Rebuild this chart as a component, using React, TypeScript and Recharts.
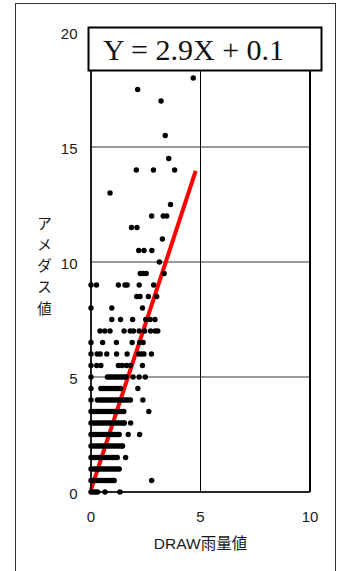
import React from 'react';
import { ScatterChart, Scatter, XAxis, YAxis, CartesianGrid, ReferenceLine } from 'recharts';

// ---- axis / text data ----
const xTicks = [0, 5, 10];
const yTicks = [0, 5, 10, 15, 20];
const xAxisTitle = 'DRAW雨量値';
const yAxisTitleChars = ['ア', 'メ', 'ダ', 'ス', '値'];
const equationText = 'Y = 2.9X + 0.1';

// ---- plot frame: right edge of the plot (x = 10, y from 0 to 20) ----
const rightEdge = [
  { x: 10, y: 0 },
  { x: 10, y: 20 },
];

// ---- regression line end points (Y = 2.9X + 0.1) ----
const fitLine = [
  { x: 0, y: 0.1 },
  { x: 4.78, y: 13.96 },
];

// ---- scatter data: AMeDAS value levels and the DRAW values seen at each level ----
const amedasLevels = [
  0, 0.5, 1, 1.5, 2, 2.5, 3, 3.5, 4, 4.5, 5, 5.5, 6, 6.5, 7, 7.5, 8, 8.5, 9, 9.5,
  10, 10.5, 11, 11.5, 12, 12.5, 13, 14, 14.5, 15.5, 17, 17.5, 18,
];
const draw00 = [0, 0.1, 0.2, 0.3, 0.64, 1.32];
const draw05 = [0, 0.1, 0.2, 0.3, 0.4, 0.5, 0.6, 0.7, 0.8, 0.9, 1.0, 1.06, 2.77];
const draw10 = [0, 0.1, 0.2, 0.3, 0.4, 0.5, 0.6, 0.7, 0.8, 0.9, 1.0, 1.1, 1.2, 1.29];
const draw15 = [0, 0.1, 0.2, 0.3, 0.4, 0.5, 0.6, 0.7, 0.8, 0.9, 1.0, 1.1, 1.2, 1.58];
const draw20 = [0, 0.1, 0.2, 0.3, 0.4, 0.5, 0.6, 0.7, 0.8, 0.9, 1.0, 1.1, 1.2, 1.3, 1.4, 1.44];
const draw25 = [0, 0.1, 0.2, 0.3, 0.4, 0.5, 0.6, 0.7, 0.8, 0.9, 1.0, 1.1, 1.2, 1.29, 1.7, 2.22];
const draw30 = [0, 0.1, 0.2, 0.3, 0.4, 0.5, 0.6, 0.7, 0.8, 0.9, 1.0, 1.1, 1.2, 1.3, 1.4, 1.5, 1.52, 1.81];
const draw35 = [0, 0.1, 0.2, 0.3, 0.4, 0.5, 0.6, 0.7, 0.8, 0.9, 1.0, 1.1, 1.2, 1.3, 1.4, 1.5, 2.64];
const draw40 = [0, 0.29, 0.4, 0.5, 0.6, 0.7, 0.8, 0.9, 1.0, 1.1, 1.2, 1.3, 1.4, 1.5, 1.6, 1.7, 1.8, 2.37];
const draw45 = [0, 0.45, 0.55, 0.65, 0.75, 0.85, 0.95, 1.05, 1.15, 1.25, 1.35, 2.14];
const draw50 = [0, 0.75, 0.85, 0.95, 1.05, 1.15, 1.25, 1.35, 1.45, 1.55, 1.6, 1.92, 2.2, 2.48];
const draw55 = [0, 0.26, 0.45, 1.25, 1.42, 1.62, 1.8, 2.35];
const draw60 = [0, 0.28, 0.42, 0.72, 1.17, 1.65, 2.18, 2.3, 2.42, 2.76];
const draw65 = [0, 0.53, 1.16, 1.88, 2.22, 2.38];
const draw70 = [0.41, 0.63, 0.87, 1.51, 1.79, 1.94, 2.2, 2.45, 2.72, 2.93, 3.05];
const draw75 = [0.95, 1.35, 1.9, 2.5, 2.7, 2.92];
const draw80 = [0, 0.95, 2.35];
const draw85 = [2.09, 2.24, 2.62, 3.0];
const draw90 = [0, 0.25, 1.25, 1.55, 1.65, 2.2, 2.86];
const draw95 = [2.25, 2.38, 2.52, 3.34];
const draw100 = [3.12];
const draw105 = [2.18, 2.42, 2.78];
const draw110 = [3.26];
const draw115 = [1.85, 2.1];
const draw120 = [2.77, 3.3, 3.46];
const draw125 = [3.63];
const draw130 = [0.87];
const draw140 = [2.07, 2.85, 3.82];
const draw145 = [3.55];
const draw155 = [3.39];
const draw170 = [3.2];
const draw175 = [2.13];
const draw180 = [4.67];

const drawRows: number[][] = [
  draw00, draw05, draw10, draw15, draw20, draw25, draw30, draw35, draw40, draw45,
  draw50, draw55, draw60, draw65, draw70, draw75, draw80, draw85, draw90, draw95,
  draw100, draw105, draw110, draw115, draw120, draw125, draw130, draw140, draw145,
  draw155, draw170, draw175, draw180,
];

const points = amedasLevels.flatMap((level, i) =>
  drawRows[i].map((x) => ({ x, y: level }))
);

// ---- layout ----
const W = 337;
const H = 571;
const MARGIN = { top: 32, right: 27, bottom: 40, left: 0 };
const X_AXIS_H = 39;

const TICK_FONT = '"Liberation Sans", Arial, "Noto Sans CJK JP", sans-serif';

const XTick = (props: any) => {
  const { x, y, payload } = props;
  return (
    <text x={x} y={y + 29.5} textAnchor="middle" fontSize={15} fontFamily={TICK_FONT} fill="#1a1a1a">
      {payload.value}
    </text>
  );
};

const YTick = (props: any) => {
  const { x, y, payload } = props;
  return (
    <text x={x - 13.5} y={y + 7.3} textAnchor="end" fontSize={15} fontFamily={TICK_FONT} fill="#1a1a1a">
      {payload.value}
    </text>
  );
};

const Dot = (props: any) => <circle cx={props.cx} cy={props.cy} r={2.7} fill="#000" />;

const XTitle = (props: any) => {
  const vb = props.viewBox || { x: 91, y: 492, width: 219, height: 39 };
  return (
    <text
      x={vb.x + vb.width / 2}
      y={vb.y + 57.3}
      textAnchor="middle"
      fontSize={15.5}
      fontFamily={TICK_FONT}
      fill="#1a1a1a"
    >
      {xAxisTitle}
    </text>
  );
};

const YTitle = (props: any) => {
  const vb = props.viewBox || { x: 0, y: 32, width: 91, height: 460 };
  const cx = vb.x + 44.5;
  const cy = vb.y + vb.height / 2 + 2;
  return (
    <text
      x={cx}
      y={cy - 2 * 21.25}
      textAnchor="middle"
      dominantBaseline="central"
      fontSize={14.5}
      fontFamily='"Noto Sans CJK JP", sans-serif'
      fill="#1a1a1a"
    >
      {yAxisTitleChars.map((ch, i) => (
        <tspan key={ch + i} x={cx} dy={i === 0 ? 0 : 21.25}>
          {ch}
        </tspan>
      ))}
    </text>
  );
};

export default function App() {
  return (
    <div style={{ position: 'absolute', left: 0, top: 0, width: W, height: H, background: '#fff', overflow: 'hidden' }}>
      <ScatterChart width={W} height={H} margin={MARGIN}>
        <CartesianGrid vertical={false} stroke="#333" strokeWidth={1} />
        <CartesianGrid horizontal={false} stroke="#000" strokeWidth={1} />
        <XAxis
          type="number"
          dataKey="x"
          domain={[0, 10]}
          ticks={xTicks}
          interval={0}
          height={X_AXIS_H}
          tickSize={0}
          tickMargin={0}
          tickLine={false}
          axisLine={{ stroke: '#000', strokeWidth: 1.5 }}
          tick={<XTick />}
          label={{ content: <XTitle /> }}
        />
        <YAxis
          type="number"
          dataKey="y"
          domain={[0, 20]}
          ticks={yTicks}
          interval={0}
          width={91}
          tickSize={0}
          tickMargin={0}
          tickLine={false}
          axisLine={{ stroke: '#000', strokeWidth: 1.5 }}
          tick={<YTick />}
          label={{ content: <YTitle /> }}
        />
        <ReferenceLine segment={rightEdge} stroke="#000" strokeWidth={2} ifOverflow="visible" />
        <Scatter data={points} shape={<Dot />} isAnimationActive={false} />
        <ReferenceLine
          segment={fitLine}
          stroke="#ff0000"
          strokeWidth={4}
          strokeLinecap="butt"
          ifOverflow="visible"
        />
      </ScatterChart>
      <svg width={W} height={H} style={{ position: 'absolute', left: 0, top: 0, pointerEvents: 'none' }}>
        <rect x={15.5} y={3.5} width={320} height={620} fill="none" stroke="#333" strokeWidth={1} />
        <rect x={88.5} y={27.5} width={233} height={43} fill="#fff" stroke="#000" strokeWidth={2} />
        <text x={103} y={59.5} fontSize={30} fontFamily='"Liberation Serif", "Times New Roman", serif' fill="#111">
          {equationText}
        </text>
      </svg>
    </div>
  );
}
